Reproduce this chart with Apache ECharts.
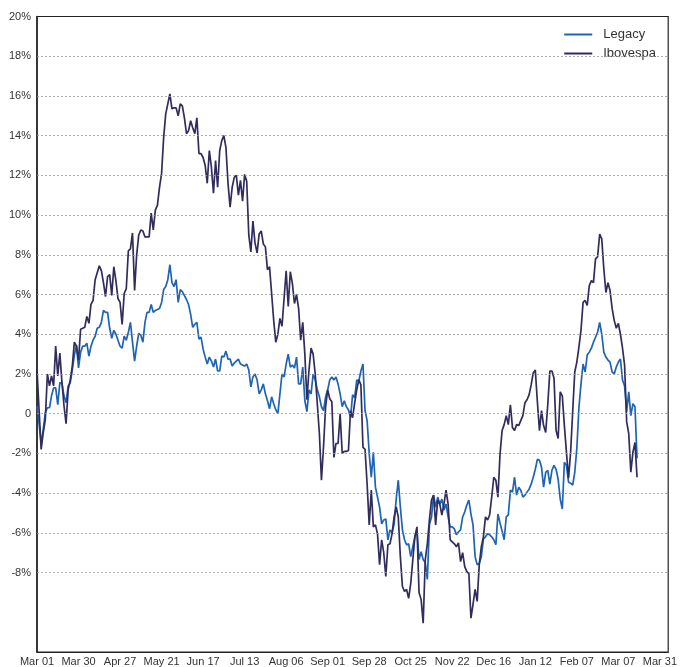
<!DOCTYPE html>
<html>
<head>
<meta charset="utf-8">
<script src="https://cdn.jsdelivr.net/npm/echarts@6/dist/echarts.min.js"></script>
<style>
  html, body { margin: 0; padding: 0; background: #ffffff; }
  #chart { width: 680px; height: 667px; }
</style>
</head>
<body>
<div id="chart"></div>
<script>
// X tick labels, one every 20 trading-day steps
const xTickLabels = ["Mar 01","Mar 30","Apr 27","May 21","Jun 17","Jul 13","Aug 06","Sep 01","Sep 28","Oct 25","Nov 22","Dec 16","Jan 12","Feb 07","Mar 07","Mar 31"];
const xTickStep = 20;

// Y grid lines that are drawn and labelled
const yGridValues = [-8,-6,-4,-2,0,2,4,6,8,10,12,14,16,18];

const seriesNames = ["Legacy", "Ibovespa"];

// Legacy cumulative return (%), one value per trading day
const legacy = [
  0.4,-0.5,-1.5,-0.8,0.05,0.3,0.3,0.9,1.3,1.3,
  0.45,1.55,1.55,0.9,0.55,1.4,1.55,2.2,2.95,3.45,
  2.3,3.1,3.4,3.4,3.55,2.9,3.4,3.7,3.9,4.3,
  4.35,4.6,5.2,5.1,5.1,4.3,3.8,4.2,4.0,3.7,
  3.4,3.3,3.9,3.7,4.1,4.6,3.6,2.65,3.4,4.05,
  3.95,3.6,4.6,5.1,5.1,5.5,5.1,5.2,5.25,5.3,
  5.6,6.25,6.4,6.75,7.5,6.6,6.4,6.75,5.6,6.25,
  6.15,5.95,5.75,5.5,5.0,4.35,4.5,4.6,3.75,3.85,
  3.25,2.85,2.5,2.85,2.65,2.35,2.75,2.15,2.15,2.9,
  2.85,3.15,2.75,2.75,2.4,2.55,2.65,2.75,2.5,2.45,
  2.4,2.5,2.2,1.35,1.85,2.0,1.7,1.0,1.2,1.5,
  1.0,0.65,0.25,0.85,0.5,0.2,0.0,1.0,2.0,1.85,
  2.5,3.0,2.35,2.45,2.3,2.85,1.5,1.5,2.35,0.65,
  0.1,1.2,1.0,2.0,1.7,1.2,0.85,0.35,0.15,0.85,
  1.2,1.7,1.85,1.7,1.85,1.5,1.0,0.35,0.65,0.35,
  0.2,-0.2,0.95,0.8,1.7,1.65,2.15,2.5,0.15,-0.35,
  -2.0,-3.2,-1.95,-3.7,-4.2,-4.7,-5.55,-5.35,-5.3,-6.35,
  -5.85,-6.0,-5.55,-4.3,-3.35,-4.7,-5.85,-6.35,-6.6,-6.55,
  -7.2,-6.7,-6.2,-5.85,-7.35,-6.95,-7.35,-7.5,-8.35,-5.6,
  -5.2,-4.1,-4.7,-4.2,-4.55,-4.3,-4.85,-4.55,-5.2,-5.7,
  -5.7,-5.8,-6.1,-5.95,-5.85,-5.2,-4.95,-4.6,-4.35,-5.05,
  -5.6,-7.2,-7.6,-7.55,-7.2,-6.3,-6.2,-6.05,-6.1,-6.2,
  -6.35,-6.6,-5.05,-5.5,-5.9,-6.35,-5.2,-5.1,-3.85,-3.95,
  -3.2,-4.1,-3.7,-3.85,-4.2,-4.1,-3.95,-3.8,-3.55,-3.2,
  -2.8,-2.3,-2.35,-2.7,-3.7,-2.95,-2.85,-3.55,-2.85,-2.6,
  -2.8,-3.3,-4.3,-4.8,-2.45,-2.6,-3.45,-3.5,-3.6,-2.95,
  -1.75,0.3,1.5,2.5,2.1,2.95,3.1,3.3,3.6,3.85,
  4.1,4.6,4.0,3.1,2.85,2.7,2.6,2.1,2.0,2.35,
  2.6,2.75,1.7,1.4,0.1,1.1,-0.1,0.5,0.35,-2.25
];

// Ibovespa cumulative return (%), one value per trading day
const ibovespa = [
  2.2,0.2,-1.8,-0.95,-0.3,2.0,1.4,1.9,1.4,3.4,
  1.9,3.05,1.6,0.4,-0.5,1.2,1.7,2.4,3.6,3.4,
  2.7,4.25,4.3,4.35,4.9,4.55,5.5,5.7,6.75,7.1,
  7.45,7.2,6.6,5.9,6.9,7.0,5.95,7.4,6.7,5.8,
  5.6,4.5,6.05,6.3,8.2,8.3,9.1,6.2,8.0,9.0,
  9.25,9.2,8.9,8.9,8.9,10.1,9.25,10.25,10.5,11.4,
  12.1,13.9,15.1,15.6,16.1,15.35,15.4,15.4,15.0,15.6,
  15.5,14.9,14.1,14.25,14.75,14.4,14.1,14.9,13.1,13.1,
  12.9,12.5,11.6,13.25,12.4,11.1,12.75,11.4,13.25,13.75,
  14.0,13.4,11.6,10.4,11.4,11.9,12.0,11.0,11.75,10.7,
  12.05,11.7,9.0,8.15,9.7,8.6,8.1,9.05,9.2,8.55,
  8.4,7.25,7.4,6.05,4.7,3.6,4.0,4.8,4.4,5.8,
  7.2,5.4,7.15,6.55,5.55,6.0,5.3,3.7,4.6,3.0,
  0.7,2.2,3.3,3.0,2.0,0.5,-1.0,-3.35,-1.65,0.35,
  1.2,0.75,0.6,-2.2,-1.5,-1.5,0.0,-2.0,-1.9,-1.9,
  -1.85,0.15,-0.2,0.55,1.2,1.7,1.45,-1.7,-1.8,-3.55,
  -5.6,-3.85,-5.7,-5.6,-6.05,-7.6,-6.35,-7.0,-8.2,-6.6,
  -6.55,-6.05,-5.2,-4.7,-5.2,-7.2,-8.7,-8.95,-8.85,-9.3,
  -8.55,-7.35,-6.2,-5.7,-9.0,-9.35,-10.55,-7.35,-6.55,-5.35,
  -4.35,-4.1,-5.6,-4.35,-4.55,-5.1,-4.55,-3.85,-4.55,-6.35,
  -6.45,-6.55,-6.7,-6.5,-7.45,-7.0,-7.7,-7.95,-8.05,-10.3,
  -9.6,-8.85,-9.45,-7.6,-6.7,-6.2,-5.2,-5.35,-5.1,-4.2,
  -3.2,-3.35,-4.2,-2.05,-0.85,-0.55,-0.1,-0.55,0.45,-0.7,
  -0.85,-0.55,-0.6,-0.35,-0.1,0.55,0.7,0.95,1.45,2.05,
  2.2,0.6,-0.85,0.15,-0.6,-0.95,0.45,2.15,2.15,1.8,
  -0.85,-1.25,1.1,0.9,-0.6,-1.95,-3.25,-1.95,0.1,2.1,
  2.6,3.35,4.2,5.6,5.7,5.45,6.45,6.7,6.6,7.8,
  7.9,9.05,8.8,7.3,6.1,6.6,6.2,5.3,4.7,4.3,
  4.55,4.0,3.3,2.45,-0.4,-1.0,-2.95,-1.95,-1.45,-3.2
];

const FONT = "'Liberation Sans', Arial, Helvetica, sans-serif";
const toPairs = arr => arr.map((v, i) => [i, v]);
const colors = ['#1f63b4', '#302c5c'];

const chart = echarts.init(document.getElementById('chart'), null, { renderer: 'canvas' });
chart.setOption({
  animation: false,
  backgroundColor: '#ffffff',
  textStyle: { fontFamily: FONT },
  grid: {
    left: 37, right: 10, top: 16.5, bottom: 14,
    show: true, borderColor: '#222222', borderWidth: 1.2, backgroundColor: 'transparent'
  },
  legend: {
    data: seriesNames.map((n, i) => ({ name: n, icon: 'rect', itemStyle: { color: colors[i], borderWidth: 0 } })),
    orient: 'vertical',
    right: 24, top: 28, padding: 0,
    itemWidth: 28, itemHeight: 2, itemGap: 6,
    textStyle: { fontFamily: FONT, fontSize: 13, color: '#333333', padding: [0, 0, 0, 6] }
  },
  xAxis: {
    type: 'value',
    min: 0, max: 304, interval: xTickStep,
    axisLine: { show: true, onZero: false, lineStyle: { color: '#222222', width: 1.2 } },
    axisTick: { show: false },
    splitLine: { show: false },
    axisLabel: {
      margin: 4, fontSize: 11, color: '#333333', fontFamily: FONT,
      showMaxLabel: true,
      formatter: v => {
        const k = Math.round(v / xTickStep);
        return (Math.abs(v - k * xTickStep) < 1e-6 && k < xTickLabels.length) ? xTickLabels[k] : '';
      }
    }
  },
  yAxis: {
    type: 'value',
    min: -12, max: 20, interval: 2,
    axisLine: { show: true, onZero: false, lineStyle: { color: '#222222', width: 1.5 } },
    axisTick: { show: false },
    splitLine: { show: false },
    axisLabel: {
      margin: 6, fontSize: 11, color: '#333333', fontFamily: FONT,
      formatter: v => {
        if (Math.abs(v) < 1e-9) return '0';
        if (v < yGridValues[0] - 1e-9) return '';
        return Math.round(v) + '%';
      }
    }
  },
  series: [
    {
      name: '__grid', type: 'line', data: [], z: 1, silent: true,
      markLine: {
        silent: true, symbol: ['none', 'none'], animation: false,
        label: { show: false },
        lineStyle: { color: '#9a9a9a', width: 0.8, type: [2, 2] },
        data: yGridValues.map(v => ({ yAxis: v }))
      }
    },
    {
      name: seriesNames[0], type: 'line', data: toPairs(legacy),
      showSymbol: false, symbol: 'none', z: 3,
      lineStyle: { color: colors[0], width: 1.7 },
      itemStyle: { color: colors[0] }
    },
    {
      name: seriesNames[1], type: 'line', data: toPairs(ibovespa),
      showSymbol: false, symbol: 'none', z: 4,
      lineStyle: { color: colors[1], width: 1.7 },
      itemStyle: { color: colors[1] }
    }
  ]
});
</script>
</body>
</html>
